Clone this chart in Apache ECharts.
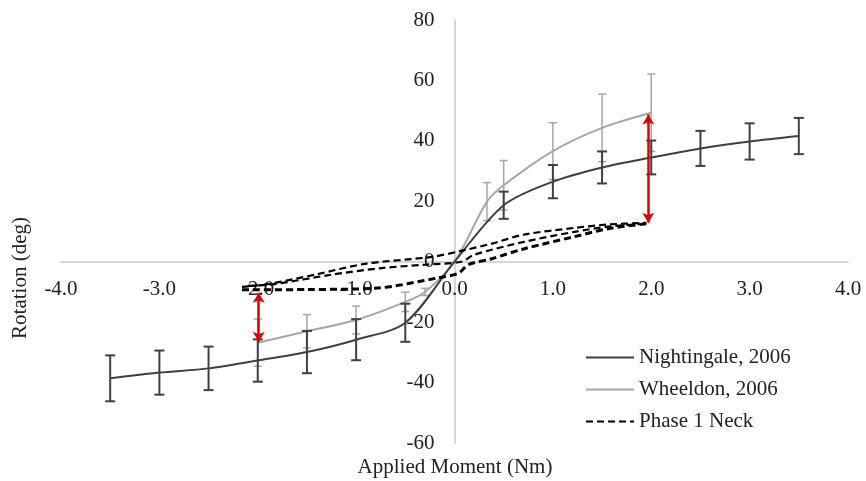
<!DOCTYPE html>
<html>
<head>
<meta charset="utf-8">
<script src="https://cdn.jsdelivr.net/npm/echarts@6/dist/echarts.min.js"></script>
<style>
  html, body { margin: 0; padding: 0; background: #fff; }
  #main { width: 866px; height: 481px; }
</style>
</head>
<body>
<div id="main"></div>
<script>
// Nightingale, 2006 (mean and +/- error)
const nightX = [-3.5, -3, -2.5, -2, -1.5, -1, -0.5, 0, 0.5, 1, 1.5, 2, 2.5, 3, 3.5];
const nightY = [-38.6, -36.7, -35.3, -32.7, -29.9, -25.8, -20.2, 0, 18.7, 26.5, 31.2, 34.5, 37.5, 39.8, 41.6];
const nightErr = [7.6, 7.3, 7.2, 7.0, 7.0, 6.8, 6.3, 0, 4.5, 5.5, 5.3, 5.6, 5.8, 6.0, 6.0];

// Wheeldon, 2006
const wheelX = [-2, -1.5, -1, -0.5, -0.3, 0, 0.33, 0.5, 1, 1.5, 2];
const wheelY = [-26.8, -23.0, -19.3, -13.3, -10.0, 0, 19.9, 25.3, 36.6, 44.3, 49.3];
const wheelErr = [7.8, 5.5, 4.6, 3.2, 1.2, 0, 6.3, 8.2, 9.4, 11.2, 12.8];

// Phase 1 Neck hysteresis branches [moment, rotation]
const neckUpper = [[-2.16, -8.3], [-1.93, -7.6], [-1.42, -4.3], [-0.91, -0.7], [-0.23, 1.6], [0.07, 3.6],
  [0.38, 6.0], [0.71, 9.0], [1.22, 11.2], [1.56, 12.3], [1.95, 12.9]];
const neckMiddle = [[-2.1, -8.0], [-1.83, -7.4], [-1.25, -4.3], [-0.74, -2.1], [-0.3, -1.0], [0.07, 0],
  [0.2, 2.3], [0.71, 6.6], [1.22, 9.9], [1.56, 11.6], [1.95, 12.6]];
const neckLower = [[-2.16, -9.3], [-1.5, -9.2], [-0.81, -8.8], [-0.16, -5.3], [0.04, -3.8], [0.14, -1.0],
  [0.38, 1.0], [0.71, 4.3], [1.22, 8.3], [1.56, 10.9], [1.95, 12.6]];

// red double arrows: [x, from, to]
const arrows = [[1.97, 12.9, 48.7], [-1.99, -10.3, -26.5]];

const font = 'Liberation Serif';
const xMin = -4, xMax = 4, yMin = -60, yMax = 80;
const gridBox = { left: 61, right: 18, top: 20, bottom: 38 };

function errorBars(xs, ys, errs) {
  let out = [];
  xs.forEach((x, i) => {
    if (errs[i] > 0) out.push([x, ys[i] - errs[i], ys[i] + errs[i]]);
  });
  return out;
}

function barRenderer(color, width, cap) {
  return function (params, api) {
    const x = api.value(0);
    const lo = api.coord([x, api.value(1)]);
    const hi = api.coord([x, api.value(2)]);
    const st = { stroke: color, lineWidth: width };
    return {
      type: 'group',
      children: [
        { type: 'line', shape: { x1: lo[0], y1: lo[1], x2: hi[0], y2: hi[1] }, style: st },
        { type: 'line', shape: { x1: lo[0] - cap, y1: lo[1], x2: lo[0] + cap, y2: lo[1] }, style: st },
        { type: 'line', shape: { x1: hi[0] - cap, y1: hi[1], x2: hi[0] + cap, y2: hi[1] }, style: st }
      ]
    };
  };
}

function dashed(data, width) {
  return {
    name: 'Phase 1 Neck',
    type: 'line',
    data: data,
    smooth: 0.3,
    symbol: 'none',
    animation: false,
    lineStyle: { color: '#000', width: width, type: [7, 4] },
    z: 4
  };
}

// move the axes so they cross at zero (labels follow the line)
const plotW = 866 - gridBox.left - gridBox.right;
const plotH = 481 - gridBox.top - gridBox.bottom;
const xOffset = -plotH * (0 - yMin) / (yMax - yMin);
const yOffset = -plotW * (0 - xMin) / (xMax - xMin);

let myChart = echarts.init(document.getElementById('main'));
myChart.setOption({
  animation: false,
  grid: gridBox,
  legend: {
    data: ['Nightingale, 2006', 'Wheeldon, 2006', 'Phase 1 Neck'],
    orient: 'vertical',
    left: 580,
    top: 342,
    itemWidth: 48,
    itemHeight: 14,
    itemGap: 11,
    itemStyle: { opacity: 0 },
    textStyle: { fontFamily: font, fontSize: 21, color: '#222' }
  },
  xAxis: {
    type: 'value',
    min: xMin,
    max: xMax,
    interval: 1,
    position: 'bottom',
    offset: xOffset,
    axisLine: { onZero: false, lineStyle: { color: '#c8c8c8', width: 1.5 } },
    axisTick: { show: false },
    splitLine: { show: false },
    axisLabel: {
      margin: 17,
      fontFamily: font,
      fontSize: 21,
      color: '#222',
      formatter: v => v.toFixed(1)
    }
  },
  yAxis: {
    type: 'value',
    min: yMin,
    max: yMax,
    interval: 20,
    position: 'left',
    offset: yOffset,
    axisLine: { show: true, onZero: false, lineStyle: { color: '#c8c8c8', width: 1.5 } },
    axisTick: { show: false },
    splitLine: { show: false },
    axisLabel: { margin: 20, fontFamily: font, fontSize: 21, color: '#222' }
  },
  graphic: [
    {
      type: 'text',
      x: 20,
      y: 278,
      rotation: Math.PI / 2,
      style: { text: 'Rotation (deg)', font: '21px "Liberation Serif"', fill: '#222', align: 'center', verticalAlign: 'middle' }
    },
    {
      type: 'text',
      x: 455,
      y: 467,
      style: { text: 'Applied Moment (Nm)', font: '21px "Liberation Serif"', fill: '#222', align: 'center', verticalAlign: 'middle' }
    }
  ],
  series: [
    {
      name: 'Nightingale, 2006',
      type: 'line',
      data: nightX.map((x, i) => [x, nightY[i]]),
      smooth: 0.3,
      symbol: 'none',
      lineStyle: { color: '#404040', width: 2 },
      itemStyle: { color: '#404040' },
      z: 3,
      markLine: {
        silent: true,
        symbol: ['arrow', 'arrow'],
        symbolSize: [9, 10],
        label: { show: false },
        lineStyle: { color: '#e00000', width: 2.5, type: 'solid' },
        data: arrows.map(a => [{ coord: [a[0], a[1]] }, { coord: [a[0], a[2]] }])
      }
    },
    {
      name: 'Wheeldon, 2006',
      type: 'line',
      data: wheelX.map((x, i) => [x, wheelY[i]]),
      smooth: 0.3,
      symbol: 'none',
      lineStyle: { color: '#a6a6a6', width: 2 },
      itemStyle: { color: '#a6a6a6' },
      z: 2
    },
    {
      name: 'nightErr',
      type: 'custom',
      renderItem: barRenderer('#404040', 2, 5),
      encode: { x: 0, y: [1, 2] },
      data: errorBars(nightX, nightY, nightErr),
      z: 3
    },
    {
      name: 'wheelErr',
      type: 'custom',
      renderItem: barRenderer('#a6a6a6', 1.5, 4),
      encode: { x: 0, y: [1, 2] },
      data: errorBars(wheelX, wheelY, wheelErr),
      z: 2
    },
    dashed(neckUpper, 2.2),
    dashed(neckMiddle, 2.2),
    dashed(neckLower, 3)
  ]
});
</script>
</body>
</html>
